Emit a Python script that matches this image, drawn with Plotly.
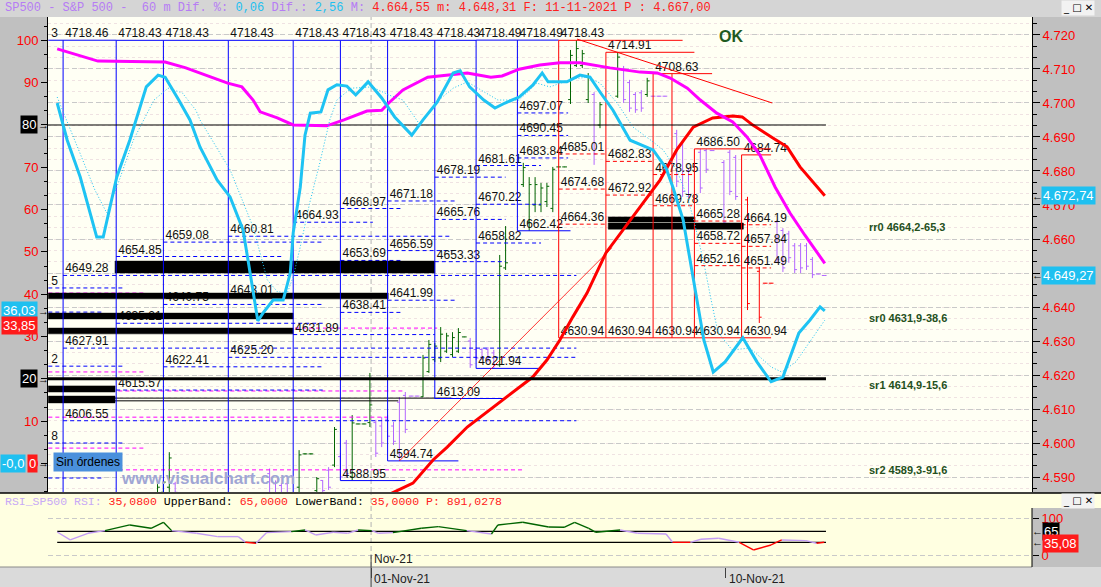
import plotly.graph_objects as go

W, H = 1101, 587
SANS = "Liberation Sans"
MONO = "Liberation Mono"

# ---------------- hourly bars (bar index, OHLC, colour class) ----------------
bar_i = [17, 18, 19, 20, 36, 37, 38, 39, 41, 42,
         43, 44, 45, 46, 47, 48, 49, 50, 51, 52,
         53, 54, 55, 56, 57, 58, 59, 60, 61, 62,
         63, 64, 65, 66, 67, 68, 69, 70, 71, 72,
         73, 74, 75, 76, 79, 80, 81, 82, 83, 84,
         85, 86, 87, 88, 89, 90, 91, 92, 95, 96,
         97, 98, 99, 100, 101, 102, 103, 105, 106, 107,
         109, 110, 111, 113, 114, 115, 117, 119, 120, 121,
         122, 123, 124, 125, 126, 127, 128, 129, 130]
bar_o = [4584.0, 4585.5, 4587.0, 4588.0, 4591.0, 4588.0, 4587.5, 4588.0, 4587.0, 4596.8,
         4596.8, 4586.0, 4589.0, 4592.0, 4593.5, 4596.0, 4600.0, 4590.0, 4605.6, 4605.6,
         4606.0, 4606.0, 4605.0, 4607.0, 4605.0, 4612.0, 4614.0, 4613.8, 4613.8, 4613.6,
         4621.0, 4624.5, 4625.0, 4627.0, 4626.0, 4627.0, 4631.2, 4630.0, 4627.5, 4627.5,
         4627.5, 4626.5, 4623.0, 4651.5, 4676.0, 4665.0, 4670.0, 4670.0, 4671.0, 4669.0,
         4681.2, 4681.2, 4701.0, 4711.0, 4711.0, 4701.0, 4702.5, 4693.5, 4702.0, 4710.0,
         4706.0, 4702.5, 4703.0, 4702.5, 4702.0, 4702.0, 4702.0, 4691.0, 4688.0, 4680.0,
         4685.5, 4686.0, 4686.0, 4682.5, 4685.5, 4684.0, 4671.5, 4650.5, 4647.0, 4647.0,
         4665.0, 4662.5, 4661.5, 4658.0, 4658.0, 4658.0, 4654.0, 4649.7, 4649.27]
bar_h = [4587.9, 4589.0, 4597.3, 4588.6, 4592.5, 4589.0, 4588.2, 4588.5, 4597.9, 4597.0,
         4597.0, 4590.0, 4589.1, 4592.9, 4604.7, 4597.1, 4600.9, 4608.2, 4605.7, 4605.7,
         4620.6, 4606.8, 4607.6, 4608.2, 4606.2, 4613.5, 4615.0, 4613.9, 4613.9, 4625.9,
         4630.3, 4629.4, 4634.1, 4632.4, 4632.6, 4633.8, 4631.3, 4630.9, 4628.2, 4628.0,
         4628.2, 4627.4, 4655.3, 4663.8, 4682.4, 4678.2, 4678.2, 4676.5, 4676.5, 4681.2,
         4681.3, 4681.3, 4715.6, 4718.43, 4715.6, 4708.8, 4703.2, 4700.3, 4714.91, 4710.9,
         4706.8, 4703.2, 4703.8, 4707.4, 4702.1, 4702.1, 4702.1, 4692.1, 4689.1, 4680.9,
         4686.5, 4686.5, 4686.1, 4683.2, 4686.2, 4684.7, 4672.4, 4651.8, 4647.1, 4647.1,
         4665.6, 4663.2, 4662.4, 4658.8, 4658.8, 4658.8, 4654.7, 4649.8, 4649.4]
bar_l = [4581.0, 4583.0, 4584.5, 4584.0, 4580.0, 4581.0, 4580.5, 4581.0, 4585.5, 4596.6,
         4596.6, 4584.0, 4584.0, 4586.2, 4592.9, 4589.1, 4590.0, 4589.1, 4605.5, 4605.5,
         4604.7, 4595.9, 4598.8, 4600.9, 4599.4, 4594.74, 4602.9, 4613.7, 4613.7, 4613.5,
         4620.6, 4623.8, 4623.8, 4626.5, 4625.3, 4626.5, 4631.1, 4622.1, 4624.4, 4624.4,
         4623.8, 4621.94, 4622.4, 4650.9, 4675.3, 4662.42, 4667.9, 4667.9, 4669.4, 4667.9,
         4681.1, 4681.1, 4699.7, 4710.6, 4710.3, 4700.0, 4681.8, 4692.6, 4701.5, 4700.0,
         4697.4, 4697.1, 4697.4, 4701.8, 4701.9, 4701.9, 4701.9, 4675.3, 4672.4, 4672.1,
         4673.5, 4679.4, 4685.9, 4663.5, 4672.9, 4671.5, 4639.1, 4635.3, 4646.9, 4646.9,
         4652.9, 4650.3, 4653.0, 4650.0, 4650.0, 4650.9, 4648.5, 4649.6, 4649.2]
bar_c = [4587.0, 4588.5, 4595.6, 4585.5, 4583.0, 4583.5, 4582.0, 4584.0, 4596.5, 4596.8,
         4596.8, 4589.5, 4586.0, 4587.0, 4604.0, 4590.0, 4591.0, 4605.9, 4605.6, 4605.6,
         4611.2, 4597.0, 4600.0, 4602.0, 4600.5, 4596.0, 4604.0, 4613.8, 4613.8, 4625.0,
         4629.0, 4628.5, 4632.0, 4631.5, 4631.0, 4632.5, 4631.2, 4623.0, 4625.0, 4625.0,
         4624.5, 4623.0, 4652.0, 4653.0, 4681.0, 4676.0, 4676.0, 4675.0, 4675.5, 4680.5,
         4681.2, 4681.2, 4714.0, 4716.0, 4714.5, 4707.5, 4685.0, 4699.5, 4713.5, 4701.0,
         4698.5, 4698.0, 4698.5, 4706.5, 4702.0, 4702.0, 4702.0, 4677.0, 4674.0, 4673.0,
         4675.0, 4680.5, 4686.0, 4665.0, 4674.0, 4672.5, 4641.0, 4637.0, 4647.0, 4647.0,
         4654.0, 4651.5, 4654.5, 4651.0, 4651.5, 4652.0, 4649.5, 4649.7, 4649.27]
bar_k = ("gggv" "vvvv" "gggg" "vv" "g" "vv" "gggg" "vvvvvvvv" "gggggggg" "vvvvv"
         "gggggggggggggg" "v" "gg" "vvvv" "g" "vvvvvvvvvvvv" "rrrr" "vvvvvvvvv")

# ---------------- oscillators on the left 0-100 scale ----------------
mag_i = [0, 6.9, 18.3, 21.8, 26.1, 28.9, 31.3, 33.2, 34.4, 37.3,
         40.0, 45.7, 48.6, 52.5, 55.0, 56.2, 58.6, 62.8, 69.5, 73.5,
         75.4, 78.3, 81.8, 85.2, 88.6, 93.7, 98.8, 101.7, 103.9, 106.8,
         109.0, 111.8, 114.5, 116.9, 119.1, 121.7, 124.2, 126.7, 130.1]
mag_v = [98.0, 95.1, 94.9, 93.5, 91.3, 89.9, 89.0, 85.9, 83.1, 81.7,
         80.0, 79.8, 81.2, 83.3, 83.5, 85.2, 88.3, 91.3, 92.3, 91.3,
         91.6, 93.2, 94.2, 94.7, 94.7, 93.5, 92.5, 92.3, 91.1, 88.7,
         85.9, 82.8, 80.7, 77.2, 72.9, 65.3, 59.2, 54.0, 47.3]

cy_i = [0, 1.7, 3.9, 6.7, 7.8, 10.1, 12.3, 15.1, 17.1, 18.3,
        20.6, 22.5, 24.2, 27.1, 29.3, 31.5, 32.7, 34.0, 34.9, 36.6,
        38.3, 39.5, 40.0, 41.2, 42.0, 42.9, 44.7, 45.9, 47.4, 49.1,
        50.6, 52.7, 55.0, 57.2, 60.1, 62.0, 64.4, 67.1, 68.3, 69.9,
        72.3, 74.2, 75.9, 78.3, 80.6, 82.2, 83.2, 86.4, 88.6, 90.3,
        92.0, 94.2, 97.1, 101.0, 103.2, 104.4, 106.1, 107.9, 109.6, 111.2,
        113.2, 116.2, 118.6, 121.0, 123.0, 125.7, 127.6, 129.3, 130.1]
cy_v = [85.2, 76.4, 67.7, 53.5, 53.5, 67.7, 76.4, 89.0, 91.8, 91.3,
        85.9, 81.2, 74.8, 67.0, 63.0, 55.2, 45.0, 33.7, 35.6, 38.6,
        38.6, 45.0, 54.5, 65.3, 77.6, 82.8, 83.1, 88.3, 89.5, 89.2,
        87.1, 90.2, 86.4, 81.9, 77.6, 81.2, 85.4, 92.3, 92.8, 89.0,
        85.9, 84.0, 85.2, 86.6, 89.4, 92.3, 90.2, 90.2, 91.8, 91.3,
        87.8, 83.5, 76.4, 74.1, 69.8, 65.1, 57.5, 43.4, 29.2, 21.6,
        24.0, 29.7, 24.0, 19.3, 20.4, 30.8, 33.9, 37.0, 36.03]

cyd_i = [0, 3.0, 6.4, 8.4, 10.1, 12.9, 14.6, 16.4, 18.8, 21.2,
         23.5, 24.2, 29.3, 33.2, 35.6, 37.3, 39.0, 40.0, 41.2, 42.8,
         44.5, 46.2, 47.4, 49.8, 53.4, 56.2, 58.6, 61.5, 63.7, 64.7,
         67.1, 69.5, 71.8, 74.7, 78.3, 81.3, 83.5, 87.4, 89.8, 92.0,
         94.9, 97.6, 101.0, 102.7, 105.0, 106.8, 107.9, 109.6, 111.0, 112.0,
         114.4, 117.4, 121.0, 122.8, 125.2, 128.1, 130.1]
cyd_v = [86.6, 76.4, 64.6, 59.2, 65.3, 76.4, 81.2, 85.9, 88.7, 87.6,
         83.5, 81.2, 69.4, 55.9, 43.4, 40.6, 40.3, 44.1, 51.2, 61.6,
         71.0, 81.2, 85.9, 88.7, 89.0, 87.1, 85.9, 80.0, 84.3, 85.9,
         88.7, 90.2, 88.3, 85.9, 85.9, 89.9, 89.0, 90.9, 91.3, 89.9,
         85.2, 79.5, 76.0, 74.1, 69.4, 63.0, 57.5, 47.4, 37.5, 31.0,
         26.8, 27.3, 22.8, 21.6, 24.0, 29.9, 33.85]

# ---------------- moving average on the price scale ----------------
ma_i = [56.4, 57.8, 60.3, 63.7, 66.1, 69.5, 71.7, 73.9, 76.2, 78.4,
        80.6, 83.0, 85.2, 87.4, 89.8, 93.0, 95.9, 99.3, 102.2, 105.0,
        107.8, 111.1, 114.5, 116.1, 117.9, 121.3, 123.7, 125.9, 130.1]
ma_v = [4585.0, 4586.2, 4588.2, 4595.0, 4598.8, 4604.7, 4607.6, 4610.6, 4613.5, 4616.5,
        4619.4, 4624.4, 4630.3, 4637.1, 4644.1, 4655.9, 4662.6, 4670.6, 4677.4, 4686.2,
        4692.9, 4695.6, 4696.2, 4695.9, 4693.5, 4689.7, 4687.1, 4681.2, 4672.74]

# ---------------- RSI sub panel ----------------
rsi_i = [0, 2.2, 5.2, 8.1, 12.3, 15.9, 18.0, 19.4, 23.6, 27.2,
         30.7, 31.9, 33.7, 35.5, 39.7, 42.0, 43.8, 46.8, 49.2, 51.0,
         53.3, 54.5, 56.9, 61.7, 64.6, 69.4, 73.6, 74.7, 78.9, 83.3,
         85.9, 87.7, 90.1, 91.3, 95.4, 98.4, 103.2, 104.3, 107.3, 109.1,
         112.1, 115.6, 118.0, 121.0, 122.8, 126.9, 128.7, 130.0]
rsi_v = [63.0, 41.4, 59.5, 66.8, 82.3, 73.2, 89.5, 66.8, 59.5, 50.5,
         50.5, 35.0, 32.3, 61.4, 64.1, 68.6, 55.0, 62.3, 59.5, 68.6,
         66.8, 59.5, 61.4, 73.2, 77.7, 66.8, 57.7, 82.3, 89.5, 76.8,
         75.9, 89.5, 73.2, 62.3, 68.6, 59.5, 57.7, 35.0, 35.0, 43.2,
         45.9, 35.0, 14.1, 27.7, 41.4, 39.5, 32.3, 35.08]
rsi_upper, rsi_lower = 65, 35

# ---------------- daily boxes and their levels ----------------
col_start = [1, 10, 18, 29, 40, 48, 56, 64, 71, 78, 85, 93, 101, 108, 116]
col_red = [False] * 10 + [True] * 5
col_top = [4718.46, 4718.43, 4718.43, 4718.43, 4718.43, 4718.43, 4718.43, 4718.43,
           4718.49, 4718.49, 4718.43, 4714.91, 4708.63, 4686.50, 4684.74]
col_top_end = [10, 18, 29, 40, 48, 56, 64, 71, 78, 85, 106, 108, 111, 121, 121]
col_low = [None, None, None, None, None, 4588.95, 4594.74, 4613.09, 4621.94, 4662.42,
           4630.94, 4630.94, 4630.94, 4630.94, 4630.94]
col_low_end = [None, None, None, None, None, 59, 68, 76, 82, 87, 93, 101, 108, 116, 121]

lvl_col = [0, 0, 0, 1, 1, 1, 2, 2, 2, 3, 3, 3, 4, 4, 5, 5, 5, 6, 6, 6, 7, 7, 7,
           8, 8, 8, 9, 9, 9, 10, 10, 10, 11, 11, 12, 12, 13, 13, 13, 14, 14, 14]
lvl_val = [4649.28, 4627.91, 4606.55, 4654.85, 4635.21, 4615.57, 4659.08, 4640.75, 4622.41,
           4660.81, 4643.01, 4625.20, 4664.93, 4631.89, 4668.97, 4653.69, 4638.41,
           4671.18, 4656.59, 4641.99, 4678.19, 4665.76, 4653.33, 4681.61, 4670.22, 4658.82,
           4697.07, 4690.45, 4683.84, 4685.01, 4674.68, 4664.36, 4682.83, 4672.92,
           4678.95, 4669.78, 4665.28, 4658.72, 4652.16, 4664.19, 4657.84, 4651.49]
lvl_end = [88, 88, 88, 38, 45, 45, 45, 45, 45, 66.6, 45, 88, 53.5, 64, 58.6, 58.6, 58.6,
           67.4, 67.4, 67.4, 76, 76, 76, 82, 82, 82, 86.6, 86.6, 86.6, 93, 93, 93,
           101, 101, 108, 108, 116, 116, 116, 121, 121, 121]
extra_red_i, extra_red_top = 104.2, 4708.63

# black zones
zone_x0 = [9.8, -1.5, -1.5, -1.5, -1.5, -1.5, 93.4, 93.4]
zone_x1 = [64.0, 56.1, 40.0, 40.0, 9.8, 9.8, 108.1, 116.3]
zone_lo = [4650.0, 4642.4, 4636.5, 4632.1, 4615.0, 4611.8, 4665.0, 4662.9]
zone_hi = [4653.5, 4644.1, 4638.2, 4633.8, 4616.8, 4613.8, 4666.5, 4664.7]

# small counter indicator on the left
cnt_lbl = ["5", "2", "8"]
cnt_blue = [4645.6, 4622.6, 4600.0, 4638.5, 4589.7]
cnt_blue_end = [11.5, 11.5, 11.5, 7.8, 7.8]
cnt_mag = [4644.1, 4620.9, 4598.5]
mag_lvl = [4633.8, 4615.3, 4607.6, 4592.1]
mag_lvl_x0 = [40.3, -1.5, -1.5, -0.2]
mag_lvl_x1 = [64.4, 59.0, 56.0, 78.8]
thin_lvl = [4613.2, 4612.4]
thin_end = [66.8, 57.8]

# trend lines
tl_down_i, tl_down_v = [88.1, 121.2], [4718.8, 4700.0]
tl_up_i, tl_up_v = [58, 94.0], [4594.74, 4657.4]

sr_lbl = ["rr0 4664,2-65,3", "sr0 4631,9-38,6", "sr1 4614,9-15,6", "sr2 4589,3-91,6"]
sr_pos = [4663.5, 4636.8, 4617.1, 4592.1]

price_ticks = list(range(4590, 4721, 10))
osc_ticks = list(range(0, 101, 10))
date_idx = [53.2, 113.3]
date_lbl = ["01-Nov-21", "10-Nov-21"]
month_lbl = "Nov-21"

# ---------------- geometry ----------------
XR = [-1.56, 165.22]
PR = [4585.59, 4725.29]
OR = [-6.76, 105.53]
RR = [-32.3, 166.6]
LAST_I = 130.3


def pxx(x):
    return x / W


def pyy(y):
    return 1 - y / H


def segs(x0s, x1s, ys):
    xs, yy = [], []
    for a, b, v in zip(x0s, x1s, ys):
        xs += [a, b, None]
        yy += [v, v, None]
    return xs, yy


def fmt_es(v, d):
    s = f"{v:,.{d}f}"
    return s.replace(",", "X").replace(".", ",").replace("X", ".")


fig = go.Figure()
BLUE, RED, MAG, CYAN = "#0000ff", "#ff0000", "#ff00ff", "#1ec3f3"
DASH = "4px,3px"

# counter indicator lines
xs, ys = segs([-1.5] * len(cnt_blue), cnt_blue_end, cnt_blue)
fig.add_trace(go.Scatter(x=xs, y=ys, mode="lines", line=dict(color=BLUE, width=1, dash=DASH)))
xs, ys = segs([-1.5] * len(cnt_mag), [14.6] * len(cnt_mag), cnt_mag)
fig.add_trace(go.Scatter(x=xs, y=ys, mode="lines", line=dict(color=MAG, width=1, dash=DASH)))
xs, ys = segs(mag_lvl_x0, mag_lvl_x1, mag_lvl)
fig.add_trace(go.Scatter(x=xs, y=ys, mode="lines", line=dict(color=MAG, width=1, dash=DASH)))

# level dashed lines
for red, colr in ((False, BLUE), (True, RED)):
    sel = [j for j in range(len(lvl_val)) if col_red[lvl_col[j]] == red]
    xs, ys = segs([col_start[lvl_col[j]] for j in sel], [lvl_end[j] for j in sel],
                  [lvl_val[j] for j in sel])
    fig.add_trace(go.Scatter(x=xs, y=ys, mode="lines", line=dict(color=colr, width=1, dash=DASH)))

# labels of levels (before the black zones so those cover them)
lx, ly, lt = [], [], []
for j, v in enumerate(lvl_val):
    lx.append(col_start[lvl_col[j]] + 0.35)
    ly.append(v)
    lt.append(f"{v:.2f}")
for c, v in enumerate(col_top):
    lx.append(col_start[c] + 0.35)
    ly.append(v)
    lt.append(f"{v:.2f}")
for c, v in enumerate(col_low):
    if v is not None:
        lx.append(col_start[c] + 0.35)
        ly.append(v)
        lt.append(f"{v:.2f}")
lx += [-1.0] * 4
ly += [col_top[0]] + cnt_blue[:3]
lt += ["3"] + cnt_lbl
fig.add_trace(go.Scatter(x=lx, y=ly, text=lt, mode="text", textposition="top right",
                         textfont=dict(family=SANS, size=12, color="#111111")))

# black zones
for x0, x1, lo, hi in zip(zone_x0, zone_x1, zone_lo, zone_hi):
    fig.add_trace(go.Scatter(x=[x0, x1, x1, x0, x0], y=[lo, lo, hi, hi, lo], mode="lines",
                             fill="toself", fillcolor="#000000", line=dict(color="#000000", width=0.5)))

# thin black double line
xs, ys = segs([9.8, 9.8], thin_end, thin_lvl)
fig.add_trace(go.Scatter(x=xs, y=ys, mode="lines", line=dict(color="#000000", width=1)))

# box frames
for red, colr in ((False, BLUE), (True, RED)):
    xs, ys = [], []
    for c in range(len(col_start)):
        if col_red[c] != red:
            continue
        x0 = col_start[c] if c else -1.5
        xs += [x0, col_top_end[c], None]
        ys += [col_top[c], col_top[c], None]
        bottom = col_low[c] if col_low[c] is not None else PR[0]
        xs += [col_start[c], col_start[c], None]
        ys += [col_top[c], bottom, None]
        if col_low[c] is not None:
            xs += [col_start[c], col_low_end[c], None]
            ys += [col_low[c], col_low[c], None]
    if red:
        xs += [extra_red_i, extra_red_i, None]
        ys += [extra_red_top, col_low[-1], None]
    fig.add_trace(go.Scatter(x=xs, y=ys, mode="lines", line=dict(color=colr, width=1)))

# price bars
for cls, colr in (("g", "#006400"), ("v", "#b266ff"), ("r", "#ff0000")):
    sel = [j for j, k in enumerate(bar_k) if k == cls]
    fig.add_trace(go.Ohlc(
        x=[bar_i[j] for j in sel], open=[bar_o[j] for j in sel], high=[bar_h[j] for j in sel],
        low=[bar_l[j] for j in sel], close=[bar_c[j] for j in sel], tickwidth=0.4,
        increasing=dict(line=dict(color=colr, width=1)),
        decreasing=dict(line=dict(color=colr, width=1))))

# trend lines and moving average
fig.add_trace(go.Scatter(x=tl_down_i, y=tl_down_v, mode="lines", line=dict(color=RED, width=1)))
fig.add_trace(go.Scatter(x=tl_up_i, y=tl_up_v, mode="lines", line=dict(color=RED, width=0.8)))
fig.add_trace(go.Scatter(x=ma_i, y=ma_v, mode="lines", line=dict(color=RED, width=3)))

# oscillators on left scale
fig.add_trace(go.Scatter(x=[XR[0], LAST_I], y=[80, 80], yaxis="y2", mode="lines",
                         line=dict(color="#000000", width=1)))
fig.add_trace(go.Scatter(x=[XR[0], LAST_I], y=[20, 20], yaxis="y2", mode="lines",
                         line=dict(color="#000000", width=3)))
fig.add_trace(go.Scatter(x=mag_i, y=mag_v, yaxis="y2", mode="lines", line=dict(color=MAG, width=3)))
fig.add_trace(go.Scatter(x=cyd_i, y=cyd_v, yaxis="y2", mode="lines",
                         line=dict(color=CYAN, width=1, dash="1px,2px")))
fig.add_trace(go.Scatter(x=cy_i, y=cy_v, yaxis="y2", mode="lines", line=dict(color=CYAN, width=3)))

# RSI panel
for lvl in (rsi_upper, rsi_lower):
    fig.add_trace(go.Scatter(x=[rsi_i[0], LAST_I], y=[lvl, lvl], xaxis="x2", yaxis="y3",
                             mode="lines", line=dict(color="#000000", width=1.3)))
seg = {"g": ([], []), "v": ([], []), "r": ([], [])}
for j in range(len(rsi_v) - 1):
    m = (rsi_v[j] + rsi_v[j + 1]) / 2
    k = "g" if m > rsi_upper else ("r" if m < rsi_lower + 0.5 else "v")
    seg[k][0].extend([rsi_i[j], rsi_i[j + 1], None])
    seg[k][1].extend([rsi_v[j], rsi_v[j + 1], None])
for k, colr in (("v", "#c39cf5"), ("g", "#006400"), ("r", "#ff0000")):
    fig.add_trace(go.Scatter(x=seg[k][0], y=seg[k][1], xaxis="x2", yaxis="y3", mode="lines",
                             line=dict(color=colr, width=1.4)))

fig.update_traces(showlegend=False, hoverinfo="skip")

# ---------------- chrome ----------------
shapes = []


def prect(x0, y0, x1, y1, color, line=None):
    shapes.append(dict(type="rect", xref="paper", yref="paper", x0=pxx(x0), x1=pxx(x1),
                       y0=pyy(y1), y1=pyy(y0), fillcolor=color, layer="below",
                       line=dict(width=0) if line is None else line))


prect(0, 0, W, 17, "#d5d5d5")
prect(0, 17, 48, 493, "#c0c0c0")
prect(1032, 17, W, 493, "#c0c0c0")
prect(0, 493, 1032, 567, "#ffffe1")
prect(1032, 493, W, 508, "#ffffe1")
prect(1032, 508, W, 567, "#c0c0c0")
prect(0, 567, W, H, "#dadada")
shapes.append(dict(type="line", xref="paper", yref="paper", x0=0, x1=1, y0=pyy(493), y1=pyy(493),
                   line=dict(color="#000000", width=1.5), layer="above"))
shapes.append(dict(type="line", xref="paper", yref="paper", x0=0, x1=pxx(1032), y0=pyy(567),
                   y1=pyy(567), line=dict(color="#8a8a8a", width=1), layer="above"))
shapes.append(dict(type="line", xref="paper", yref="paper", x0=pxx(1032), x1=pxx(1032),
                   y0=pyy(567), y1=pyy(508), line=dict(color="#000000", width=1), layer="above"))
shapes.append(dict(type="line", xref="x", yref="paper", x0=date_idx[0], x1=date_idx[0],
                   y0=pyy(492), y1=pyy(17), line=dict(color="#b4b4b4", width=1, dash="5px,3px"),
                   layer="below"))
shapes.append(dict(type="line", xref="x2", yref="paper", x0=date_idx[0], x1=date_idx[0],
                   y0=pyy(567), y1=pyy(494), line=dict(color="#b4b4b4", width=1, dash="5px,3px"),
                   layer="below"))
shapes.append(dict(type="line", xref="x2", yref="paper", x0=date_idx[0], x1=date_idx[0],
                   y0=pyy(587), y1=pyy(555), line=dict(color="#404040", width=1), layer="above"))

V, C, R = "#b67cf4", "#1ec0f0", "#ff2020"


def sp(t, c):
    return f'<span style="color:{c}">{t}</span>'


title = (sp("SP500 - S&amp;P 500 - \u00a060 m Dif. %: ", V) + sp("0,06", C) + sp(" Dif.: ", V)
         + sp("2,56", C) + sp(" M: ", V) + sp("4.664,55 m: 4.648,31 F: 11-11-2021 P : 4.667,00", R))
rsi_title = (sp("RSI_SP500 RSI: ", "#c8aaf6") + sp(fmt_es(rsi_v[-1], 4) + " ", R)
             + sp("UpperBand: ", "#000000") + sp(fmt_es(rsi_upper, 4) + " ", R)
             + sp("LowerBand: ", "#000000") + sp(fmt_es(rsi_lower, 4) + " ", R)
             + sp("P: 891,0278", R))

ann = []


def badge(text, x, y, yref, bg, fg="#ffffff", anchor="right", yshift=0):
    ann.append(dict(text=text, x=pxx(x), xref="paper", y=y, yref=yref, xanchor=anchor,
                    yanchor="middle", showarrow=False, bgcolor=bg, borderpad=1, yshift=yshift,
                    font=dict(family=SANS, size=13, color=fg)))


ann.append(dict(text=title, x=pxx(3), y=pyy(8), xref="paper", yref="paper", xanchor="left",
                yanchor="middle", showarrow=False, font=dict(family=MONO, size=12)))
ann.append(dict(text=rsi_title, x=pxx(3), y=pyy(501), xref="paper", yref="paper", xanchor="left",
                yanchor="middle", showarrow=False, font=dict(family=MONO, size=11.5)))
badge("80", 38, 80, "y2", "#000000")
badge("20", 38, 20, "y2", "#000000")
badge(fmt_es(cy_v[-1], 2), 38, cy_v[-1], "y2", C)
badge(fmt_es(cyd_v[-1], 2), 38, cyd_v[-1], "y2", "#ff1a1a", yshift=-5)
badge("0", 38, 0, "y2", "#ff1a1a")
badge("-0,0", 26, 0, "y2", C)
badge(fmt_es(ma_v[-1], 2), 1041, ma_v[-1], "y", C, anchor="left")
badge(fmt_es(bar_c[-1], 2), 1041, bar_c[-1], "y", C, anchor="left")
badge(str(rsi_upper), 1042, rsi_upper, "y3", "#000000", anchor="left")
badge(fmt_es(rsi_v[-1], 2), 1042, rsi_v[-1], "y3", "#ff1a1a", anchor="left", yshift=-1)
for v, ref in ((80, "y2"), (20, "y2"), (cy_v[-1], "y2"), (0, "y2")):
    ann.append(dict(text="→", x=pxx(43), y=v, xref="paper", yref=ref, xanchor="center",
                    yanchor="middle", showarrow=False, font=dict(family=SANS, size=11, color="#000000")))
for v, ref in ((ma_v[-1], "y"), (bar_c[-1], "y"), (rsi_upper, "y3"), (rsi_v[-1], "y3")):
    ann.append(dict(text="←", x=pxx(1037), y=v, xref="paper", yref=ref, xanchor="center",
                    yanchor="middle", showarrow=False, font=dict(family=SANS, size=11, color="#000000")))
for t, v in zip(sr_lbl, sr_pos):
    ann.append(dict(text=f"<b>{t}</b>", x=137.3, y=v, xref="x", yref="y", xanchor="left",
                    yanchor="middle", showarrow=False, font=dict(family=SANS, size=11, color="#24501c")))
ann.append(dict(text="<b>OK</b>", x=114.2, y=4719.7, xref="x", yref="y", xanchor="center",
                yanchor="middle", showarrow=False, font=dict(family=SANS, size=16, color="#1f5a1f")))
ann.append(dict(text="Sin órdenes", x=pxx(88), y=pyy(462), xref="paper", yref="paper",
                xanchor="center", yanchor="middle", showarrow=False, bgcolor="#4a90dc", borderpad=2,
                font=dict(family=SANS, size=12, color="#000000")))
ann.append(dict(text="<b>www.visualchart.com</b>", x=pxx(208), y=pyy(478), xref="paper",
                yref="paper", xanchor="center", yanchor="middle", showarrow=False,
                font=dict(family=SANS, size=17, color="#a0a6d4")))
ann.append(dict(text=month_lbl, x=date_idx[0], y=pyy(559), xref="x2", yref="paper", xanchor="left",
                yanchor="middle", showarrow=False, xshift=1,
                font=dict(family=SANS, size=12, color="#202020")))
for d, t in zip(date_idx, date_lbl):
    ann.append(dict(text=t, x=d, y=pyy(579), xref="x2", yref="paper", xanchor="left",
                    yanchor="middle", showarrow=False, xshift=1,
                    font=dict(family=SANS, size=12, color="#202020")))
for yy in (8, 501):
    ann.append(dict(text="_ □ ✕", x=pxx(1078), y=pyy(yy), xref="paper", yref="paper",
                    xanchor="center", yanchor="middle", showarrow=False, bgcolor="#f2f2f2",
                    font=dict(family="DejaVu Sans", size=10, color="#000000")))

XD = [pxx(48), pxx(1032)]
fig.update_layout(
    width=W, height=H, autosize=False, margin=dict(l=0, r=0, t=0, b=0),
    paper_bgcolor="#fffff4", plot_bgcolor="rgba(0,0,0,0)", showlegend=False,
    shapes=shapes, annotations=ann,
    xaxis=dict(domain=XD, range=XR, anchor="y", showgrid=False, showticklabels=False,
               zeroline=False, ticks="", rangeslider=dict(visible=False), fixedrange=True),
    yaxis=dict(domain=[pyy(492), pyy(17)], range=PR, anchor="x", side="right",
               tickvals=price_ticks, ticktext=[fmt_es(v, 0) for v in price_ticks],
               tickfont=dict(family=SANS, size=13, color="#ff0000"), ticks="outside", ticklen=7,
               tickcolor="#000000", showline=True, linecolor="#000000", zeroline=False,
               showgrid=True, gridcolor="#c9c9c9", griddash="5px,3px",
               minor=dict(tick0=4590, dtick=10 / 3, ticks="outside", ticklen=4, tickcolor="#000000",
                          showgrid=True, gridcolor="#efe2e2", griddash="dot")),
    yaxis2=dict(overlaying="y", anchor="x", side="left", range=OR, tickvals=osc_ticks,
                ticktext=["" if v in (20, 80) else str(v) for v in osc_ticks],
                tickfont=dict(family=SANS, size=13, color="#ff0000"), ticks="outside", ticklen=6,
                tickcolor="#000000", showline=True, linecolor="#000000", showgrid=False,
                zeroline=False,
                minor=dict(tick0=0, dtick=10 / 3, ticks="outside", ticklen=3, tickcolor="#000000")),
    xaxis2=dict(domain=XD, range=XR, anchor="y3", showgrid=False, zeroline=False,
                tickvals=date_idx, ticktext=["", ""], ticks="outside", ticklen=10,
                tickcolor="#404040", fixedrange=True),
    yaxis3=dict(domain=[pyy(567), pyy(494)], range=RR, anchor="x2", side="right",
                tickvals=[0, 100], ticktext=["0", "100"],
                tickfont=dict(family=SANS, size=13, color="#ff0000"), ticks="outside", ticklen=6,
                tickcolor="#000000", showline=False, zeroline=False, showgrid=True,
                gridcolor="#c9c9c9", griddash="5px,3px"),
)

# the page's default body margin would push the figure off the window
fig.write_html("out.html", config={"displayModeBar": False},
               post_script="document.body.style.margin='0';")
